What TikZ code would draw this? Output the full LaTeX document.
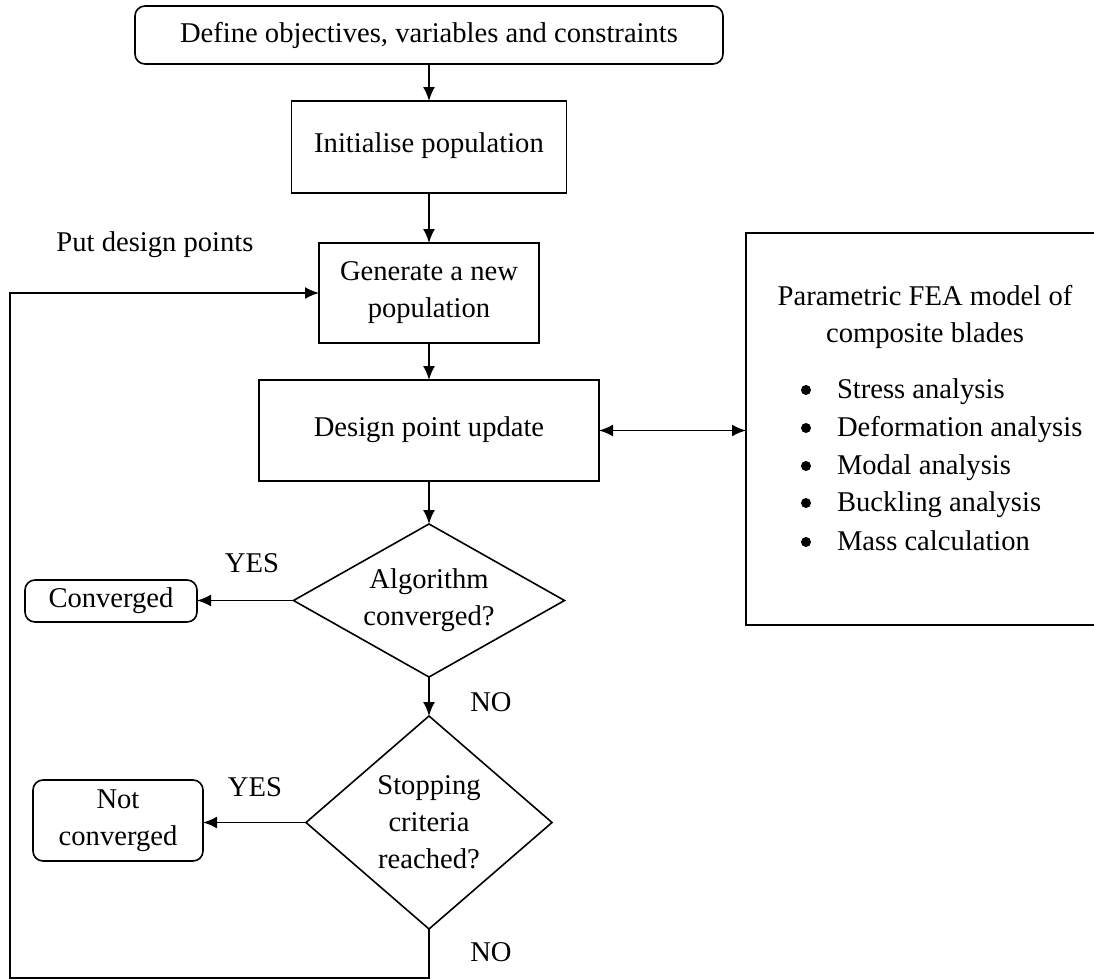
\documentclass[tikz,border=0pt]{standalone}
\usepackage{fontspec}
\setmainfont{Liberation Serif}
\usetikzlibrary{shapes.geometric,arrows.meta}
\begin{document}
\begin{tikzpicture}[x=0.5pt,y=-0.5pt,
  font=\fontsize{14.3}{18.5}\selectfont,
  every node/.style={inner sep=0pt, outer sep=0pt},
  box/.style={draw, line width=0.8pt, rectangle, align=center},
  rbox/.style={box, rounded corners=5pt},
  dia/.style={draw, line width=0.8pt, diamond, align=center, inner sep=0pt},
  dot/.style={circle, fill, minimum size=5pt},
  arr/.style={line width=0.9pt, -{Latex[length=7pt,width=6pt]}},
  darr/.style={line width=0.9pt, {Latex[length=7pt,width=6pt]}-{Latex[length=7pt,width=6pt]}}
]
\useasboundingbox (0,0) rectangle (1094,980);

\node[rbox, minimum width=294pt, minimum height=29pt] (def) at (429,35) {Define objectives, variables and constraints};
\node[box, minimum width=137.5pt, minimum height=46pt, text depth=4pt] (init) at (429,147) {Initialise population};
\node[box, minimum width=110pt, minimum height=50pt] (gen) at (429,293) {Generate a new\\population};
\node[box, minimum width=170pt, minimum height=50.5pt, text depth=4pt] (dpu) at (429,430.5) {Design point update};
\node[box, minimum width=176pt, minimum height=196pt] (fea) at (922,429) {};
\node[dia, minimum width=135.5pt, minimum height=76.5pt, aspect=1.77] (alg) at (429,600.5) {Algorithm\\converged?};
\node[dia, minimum width=123pt, minimum height=106.5pt, aspect=1.15] (stop) at (429,822.5) {Stopping\\criteria\\reached?};
\node[rbox, minimum width=86pt, minimum height=21pt] (conv) at (111,601) {Converged};
\node[rbox, minimum width=85pt, minimum height=40.5pt] (notc) at (118,820.5) {Not\\converged};

\node (yes1) at (252,563) {YES};
\node (yes2) at (255,787) {YES};
\node (no1) at (491,702) {NO};
\node (no2) at (491,952) {NO};
\node (put) at (155,245) {Put design points};

\node[align=center] (featitle) at (925,317) {Parametric FEA model of\\composite blades};
\node[dot] (d1) at (806,390) {};
\node[dot] (d2) at (806,428) {};
\node[dot] (d3) at (806,466) {};
\node[dot] (d4) at (806,503) {};
\node[dot] (d5) at (806,542) {};
\node[anchor=base west] (b1) at (837,398) {Stress analysis};
\node[anchor=base west] (b2) at (837,436) {Deformation analysis};
\node[anchor=base west] (b3) at (837,474) {Modal analysis};
\node[anchor=base west] (b4) at (837,511) {Buckling analysis};
\node[anchor=base west] (b5) at (837,550) {Mass calculation};

\coordinate (c1) at (429,978);
\coordinate (c2) at (10,978);
\coordinate (c3) at (10,293);

\draw[arr] (def.south) -- (init.north);
\draw[arr] (init.south) -- (gen.north);
\draw[arr] (gen.south) -- (dpu.north);
\draw[darr] (dpu.east) -- (dpu.east -| fea.west);
\draw[arr] (dpu.south) -- (alg.north);
\draw[arr] (alg.west) -- (alg.west -| conv.east);
\draw[arr] (alg.south) -- (stop.north);
\draw[arr] (stop.west) -- (stop.west -| notc.east);
\draw[arr] (stop.south) -- (c1) -- (c2) -- (c3) -- (gen.west);
\end{tikzpicture}
\end{document}
